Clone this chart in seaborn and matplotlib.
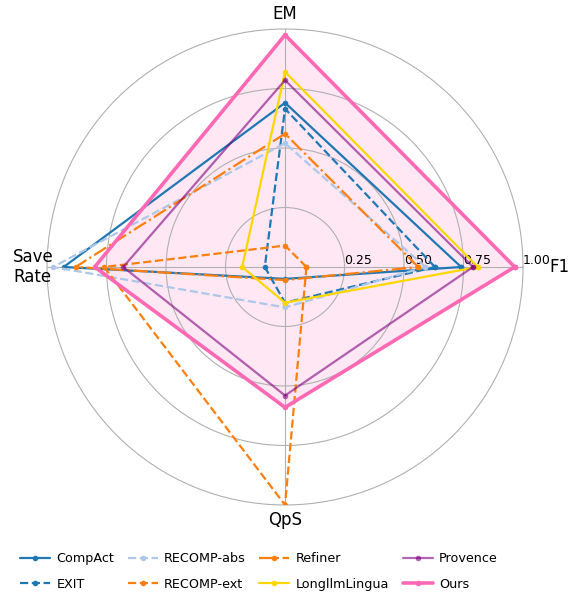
import numpy as np
import pandas as pd
import matplotlib
matplotlib.use("Agg")
import matplotlib.pyplot as plt
import seaborn as sns

# Radar axes, counter-clockwise from the right
axes_labels = ["F1", "EM", "Save\nRate", "QpS"]

# Normalised scores per method: F1, EM, Save Rate, QpS
compact = [0.74, 0.69, 0.93, 0.05]
exit_ = [0.63, 0.665, 0.085, 0.15]
recomp_abs = [0.59, 0.52, 0.975, 0.17]
recomp_ext = [0.09, 0.09, 0.76, 1.00]
refiner = [0.56, 0.56, 0.88, 0.055]
longllmlingua = [0.81, 0.82, 0.18, 0.15]
provence = [0.79, 0.785, 0.68, 0.54]
ours = [0.965, 0.975, 0.80, 0.59]

methods = ["CompAct", "EXIT", "RECOMP-abs", "RECOMP-ext",
           "Refiner", "LongllmLingua", "Provence", "Ours"]
scores = [compact, exit_, recomp_abs, recomp_ext,
          refiner, longllmlingua, provence, ours]

styles = {
    "CompAct": dict(color="#1f77b4", linestyle="-", lw=1.6, alpha=1.0),
    "EXIT": dict(color="#1f77b4", linestyle="--", lw=1.6, alpha=1.0),
    "RECOMP-abs": dict(color="#aec7e8", linestyle="--", lw=1.6, alpha=1.0),
    "RECOMP-ext": dict(color="#ff7f0e", linestyle="--", lw=1.6, alpha=1.0),
    "Refiner": dict(color="#ff7f0e", linestyle="-.", lw=1.6, alpha=1.0),
    "LongllmLingua": dict(color="#ffd700", linestyle="-", lw=1.6, alpha=1.0),
    "Provence": dict(color="purple", linestyle="-", lw=1.6, alpha=0.6),
    "Ours": dict(color="#ff69b4", linestyle="-", lw=2.6, alpha=1.0),
}

# Where each axis name sits (radius in data units)
label_radius = [1.155, 1.063, 1.06, 1.063]

angles = np.linspace(0, 2 * np.pi, len(axes_labels), endpoint=False)
closed_angles = np.append(angles, angles[0])

rows = []
for name, vals in zip(methods, scores):
    vals_closed = list(vals) + [vals[0]]
    for i, (a, v) in enumerate(zip(closed_angles, vals_closed)):
        rows.append({"method": name, "order": i, "angle": a, "score": v})
df = pd.DataFrame(rows)

sns.set_style("white")
plt.rcParams["font.family"] = ["DejaVu Sans"]
plt.rcParams["text.color"] = "black"
plt.rcParams["xtick.color"] = "black"
plt.rcParams["ytick.color"] = "black"

fig = plt.figure(figsize=(5.75, 5.92), dpi=100)
ax = fig.add_axes([0.0817, 0.147, 0.828, 0.804], projection="polar")

for name in methods:
    st = styles[name]
    sub = df[df["method"] == name].sort_values("order")
    sns.lineplot(data=sub, x="angle", y="score", sort=False, estimator=None,
                 ax=ax, color=st["color"], linestyle=st["linestyle"],
                 linewidth=st["lw"], alpha=st["alpha"], marker="o",
                 markersize=4, markeredgewidth=0, label=name)
    if name == "Ours":
        ax.fill(sub["angle"], sub["score"], color=st["color"], alpha=0.15,
                zorder=0)

ax.set_ylim(0, 1.0)
ax.set_yticks([0.25, 0.5, 0.75, 1.0])
ax.set_yticklabels(["0.25", "0.50", "0.75", "1.00"], fontsize=9,
                   color="black")
ax.set_rlabel_position(0)
ax.set_xticks(angles)
ax.set_xticklabels([])
for a, lab, r in zip(angles, axes_labels, label_radius):
    ax.text(a, r, lab, ha="center", va="center", fontsize=12,
            color="black", clip_on=False, linespacing=1.1)
ax.set_xlabel("")
ax.set_ylabel("")
ax.grid(True, color="#b0b0b0", linewidth=0.8)
for gl in ax.yaxis.get_gridlines():
    gl.set_clip_on(False)
ax.spines["polar"].set_visible(False)

handles, labels = ax.get_legend_handles_labels()
ax.get_legend().remove()
leg = fig.legend(handles, labels, loc="center left", ncol=4, frameon=False,
                 fontsize=9.2, bbox_to_anchor=(0.0348, 0.0346), borderpad=0,
                 borderaxespad=0, columnspacing=1.05, handlelength=2.35,
                 handletextpad=0.5, labelspacing=0.95)
for t in leg.get_texts():
    t.set_color("black")

fig.savefig("out.png", dpi=100)
